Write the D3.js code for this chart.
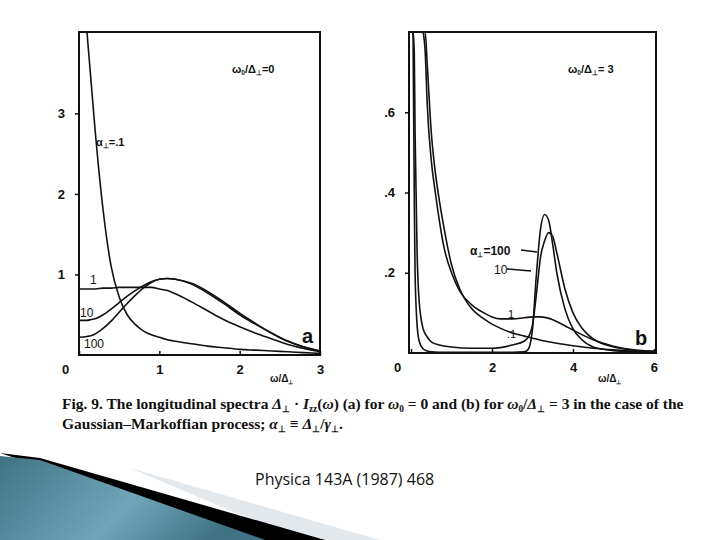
<!DOCTYPE html>
<html><head><meta charset="utf-8">
<script src="https://cdn.jsdelivr.net/npm/d3@7"></script>
<style>body{margin:0;background:#fff}svg{display:block}</style></head>
<body><svg id="c" width="720" height="540"></svg>
<script>
// Panel a: x = ω/Δ⊥, y = spectrum
const aX = [0,0.1,0.15,0.2,0.3,0.4,0.5,0.6,0.7,0.8,0.9,1.0,1.1,1.2,1.4,1.6,1.8,2.0,2.2,2.4,2.6,2.8,3.0];
const a_01 = [null,4.0,3.4,2.8,1.8,1.1,0.72,0.5,0.38,0.3,0.25,0.22,0.19,0.17,0.14,0.11,0.09,0.07,0.06,0.05,0.04,0.03,0.02];
const a_1  = [0.82,0.82,0.82,0.82,0.83,0.83,0.84,0.84,0.84,0.84,0.84,0.82,0.8,0.76,0.66,0.55,0.44,0.35,0.27,0.2,0.13,0.08,0.04];
const a_10 = [0.43,0.43,0.44,0.45,0.5,0.57,0.65,0.73,0.8,0.86,0.91,0.94,0.95,0.94,0.88,0.77,0.64,0.5,0.38,0.27,0.17,0.1,0.05];
const a_100= [0.22,0.23,0.24,0.26,0.33,0.42,0.53,0.64,0.74,0.83,0.9,0.94,0.95,0.94,0.89,0.79,0.66,0.52,0.39,0.27,0.17,0.1,0.05];
const aXTicks = [0,1,2,3], aYTicks = [1,2,3];
// Panel b
const bX1  = [0.05,0.08,0.1,0.15,0.2,0.3,0.4,0.5,0.7,1.0,1.5,2.0,2.5,2.8,2.9,3.0,3.1,3.2,3.3,3.4,3.5,3.6,3.8,4.0,4.2,4.5,5.0,5.5,6.0];
const b_100= [0.8,0.4,0.2,0.07,0.03,0.01,0.005,0.003,0.002,0.002,0.002,0.002,0.002,0.003,0.01,0.06,0.2,0.31,0.345,0.33,0.27,0.2,0.11,0.06,0.035,0.015,0.006,0.003,0.002];
const b_10 = [0.8,0.75,0.55,0.25,0.13,0.06,0.04,0.028,0.02,0.015,0.012,0.012,0.02,0.03,0.04,0.07,0.15,0.24,0.28,0.3,0.29,0.25,0.16,0.1,0.065,0.035,0.015,0.007,0.004];
const bX2  = [0.3,0.35,0.4,0.5,0.6,0.7,0.8,1.0,1.2,1.5,1.8,2.0,2.2,2.5,2.8,3.0,3.2,3.5,3.8,4.0,4.5,5.0,5.5,6.0];
const b_1  = [0.8,0.75,0.62,0.48,0.4,0.33,0.27,0.2,0.155,0.12,0.1,0.09,0.085,0.085,0.088,0.09,0.09,0.083,0.068,0.057,0.033,0.017,0.008,0.004];
const b_01 = [0.8,0.8,0.72,0.55,0.45,0.38,0.32,0.22,0.16,0.11,0.085,0.072,0.062,0.05,0.042,0.037,0.032,0.026,0.021,0.018,0.012,0.008,0.005,0.003];
const bXTicks = [0,2,4,6], bYTicks = [0.2,0.4,0.6];
const bYTickLabels = [".2",".4",".6"];

const svg = d3.select("#c");
const ink = "#111";
function panel(cfg){
  const x = d3.scaleLinear().domain(cfg.xd).range([cfg.l,cfg.r]);
  const y = d3.scaleLinear().domain(cfg.yd).range([cfg.b,cfg.t]);
  const g = svg.append("g");
  const cp = "clip"+cfg.id;
  svg.append("clipPath").attr("id",cp).append("rect").attr("x",cfg.l).attr("y",cfg.t).attr("width",cfg.r-cfg.l).attr("height",cfg.b-cfg.t);
  g.append("rect").attr("x",cfg.l).attr("y",cfg.t).attr("width",cfg.r-cfg.l).attr("height",cfg.b-cfg.t)
    .attr("fill","none").attr("stroke",ink).attr("stroke-width",2);
  const xa = g.append("g").attr("transform",`translate(0,${cfg.b})`)
    .call(d3.axisBottom(x).tickValues(cfg.xt).tickSize(-4).tickPadding(10).tickFormat(d=>d3.format("d")(d)));
  xa.select(".domain").remove();
  const ya = g.append("g").attr("transform",`translate(${cfg.l},0)`)
    .call(d3.axisLeft(y).tickValues(cfg.yt).tickSize(4).tickPadding(10).tickFormat((d,i)=>cfg.ytl?cfg.ytl[i]:d));
  ya.select(".domain").remove();
  g.selectAll(".tick line").attr("stroke",ink).attr("stroke-width",1.5);
  g.selectAll(".tick text").attr("fill",ink).attr("font-family","Liberation Sans, Arial").attr("font-size",13).attr("font-weight","bold");
  xa.selectAll(".tick").filter(d=>d===0).select("text").attr("dx",-14);
  const line = d3.line().defined(d=>d[1]!=null).x(d=>x(d[0])).y(d=>y(Math.min(d[1],cfg.yd[1]*1.05))).curve(d3.curveMonotoneX);
  const cg = g.append("g").attr("clip-path",`url(#${cp})`);
  cfg.series.forEach(s=>{
    cg.append("path").datum(s.x.map((v,i)=>[v,s.y[i]])).attr("d",line)
      .attr("fill","none").attr("stroke",ink).attr("stroke-width",1.6);
  });
}
panel({id:"a",l:79,r:320,t:32,b:355,xd:[0,3],yd:[0,4.01],xt:aXTicks,yt:aYTicks,
  series:[{x:aX,y:a_01},{x:aX,y:a_1},{x:aX,y:a_10},{x:aX,y:a_100}]});
panel({id:"b",l:409,r:656,t:32,b:353,xd:[-0.05,6.05],yd:[0,0.8],xt:bXTicks,yt:bYTicks,ytl:bYTickLabels,
  series:[{x:bX1,y:b_100},{x:bX1,y:b_10},{x:bX2,y:b_1},{x:bX2,y:b_01}]});

function rich(x,y,parts,size,opt={}){
  const t = svg.append("text").attr("x",x).attr("y",y).attr("font-family",opt.fam||"Liberation Sans, Arial")
   .attr("font-size",size).attr("font-weight",opt.w||"normal").attr("fill",ink).attr("text-anchor",opt.a||"start");
  let shift=0;
  parts.forEach(p=>{
    const txt = typeof p==="string"?p:p[0];
    const kind = typeof p==="string"?"n":p[1];
    const s=t.append("tspan").text(txt);
    const want = kind==="sub"?size*0.2:0;
    if(want!==shift){s.attr("dy",want-shift);shift=want;}
    if(kind==="sub") s.attr("font-size",size*0.6);
    if(kind==="i") s.attr("font-style","italic");
  });
}
rich(232,73,["ω",["0","sub"],"/Δ",["⊥","sub"],"=0"],11,{w:"bold"});
rich(96,146,["α",["⊥","sub"],"=.1"],11,{w:"bold"});
rich(90,284,["1"],12);rich(80,317,["10"],12);rich(84,348,["100"],12);
rich(302,343,["a"],20,{w:"bold"});
rich(270,382,["ω/Δ",["⊥","sub"]],10,{w:"bold"});
rich(568,73,["ω",["0","sub"],"/Δ",["⊥","sub"],"= 3"],11,{w:"bold"});
rich(470,255,["α",["⊥","sub"],"=100"],12,{w:"bold"});
rich(494,274,["10"],12);
rich(508,318,["1"],11);rich(507,338,[".1"],11);
rich(635,345,["b"],20,{w:"bold"});
rich(598,382,["ω/Δ",["⊥","sub"]],10,{w:"bold"});
svg.append("path").attr("d",`M521,250 L537,252 M507,269 L531,271`).attr("stroke",ink).attr("stroke-width",1.5);

const serif="Liberation Serif, Times";
rich(62,409,["Fig. 9. The longitudinal spectra ",["Δ","i"],["⊥","sub"]," · ",["I","i"],["zz","sub"],"(",["ω","i"],") (a) for ",["ω","i"],["0","sub"]," = 0 and (b) for ",["ω","i"],["0","sub"],"/",["Δ","i"],["⊥","sub"]," = 3 in the case of the"],15.5,{fam:serif,w:"bold"});
rich(62,429,["Gaussian–Markoffian process; ",["α","i"],["⊥","sub"]," ≡ ",["Δ","i"],["⊥","sub"],"/",["γ","i"],["⊥","sub"],"."],15.5,{fam:serif,w:"bold"});
rich(255,485,["Physica 143A (1987) 468"],16,{fam:"Open Sans, DejaVu Sans"});

const defs = svg.append("defs");
const gr = defs.append("linearGradient").attr("id","tg").attr("x1","0").attr("y1","0").attr("x2","1").attr("y2","0.3");
gr.append("stop").attr("offset","0").attr("stop-color","#3f7384");
gr.append("stop").attr("offset","0.6").attr("stop-color","#6fa6b8");
gr.append("stop").attr("offset","1").attr("stop-color","#3f7384");
svg.append("path").attr("d","M130,468 L380,540 L300,540 Z").attr("fill","#e3e8ec");
svg.append("path").attr("d","M0,453 L40,458 L325,540 L262,540 Z").attr("fill","#000");
svg.append("path").attr("d","M0,456 L40,460 L265,540 L0,540 Z").attr("fill","url(#tg)");
</script></body></html>
